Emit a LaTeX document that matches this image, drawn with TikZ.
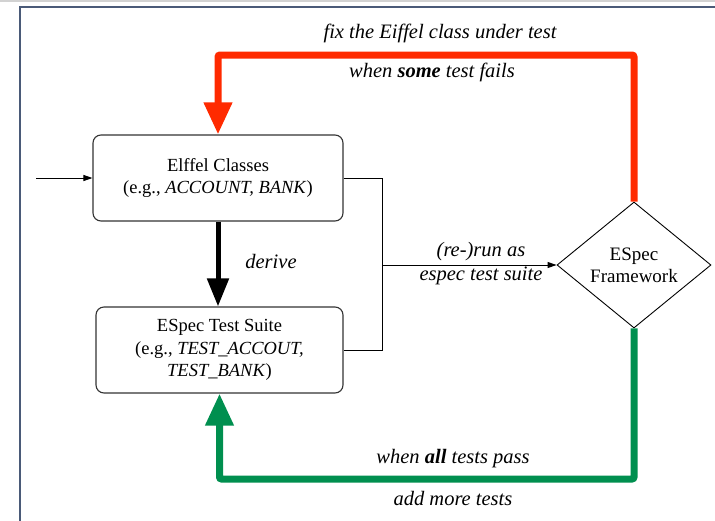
\documentclass[tikz,border=0pt]{standalone}
\usepackage{fontspec}
\setmainfont{Liberation Serif}
\usetikzlibrary{arrows.meta,shapes.geometric,calc}
\definecolor{redc}{HTML}{FF2A00}
\definecolor{greenc}{HTML}{008F4F}
\definecolor{framec}{HTML}{4A5A78}
\definecolor{boxc}{HTML}{333333}
\begin{document}
\begin{tikzpicture}[x=1pt,y=-1pt,
  every node/.style={font=\fontsize{18.5}{22.5}\selectfont},
  boxnode/.style={draw=boxc, line width=1.1pt, rounded corners=8pt, align=center, inner sep=0pt},
  dianode/.style={draw=black, line width=0.9pt, diamond, minimum width=154pt, minimum height=126pt, inner sep=0pt, align=center, font=\fontsize{19}{22}\selectfont},
  lbl/.style={font=\fontsize{20.5}{24}\selectfont\itshape, align=center},
  thinarrow/.style={line width=0.9pt, -{Triangle[length=9pt,width=6pt]}},
  thinline/.style={line width=0.9pt},
  redpath/.style={draw=redc, line width=7pt, rounded corners=2pt, -{Triangle[length=32pt,width=27pt]}},
  greenpath/.style={draw=greenc, line width=7pt, rounded corners=2pt, -{Triangle[length=32pt,width=27pt]}},
  blackpath/.style={draw=black, line width=5pt, -{Triangle[length=28pt,width=21pt]}}
]
\useasboundingbox (0,0) rectangle (715,520);
\draw[gray!35, line width=1.5pt] (0,1) -- (715,1);
\draw[framec, line width=1.5pt] (20,521) -- (20,7) -- (716,7);

\node[boxnode, minimum width=250pt, minimum height=86pt] (b1) at (218,178)
  {Elffel Classes\\(e.g., \textit{ACCOUNT, BANK})};
\node[boxnode, minimum width=247pt, minimum height=86pt] (b2) at (219.5,350)
  {ESpec Test Suite\\(e.g., \textit{TEST\_ACCOUT,}\\\textit{TEST\_BANK})};
\node[dianode] (dia) at (634,265) {ESpec\\Framework};

\coordinate (in) at (36,178);
\coordinate (bx) at (382,0);
\coordinate (rtop) at (0,55);
\coordinate (gbot) at (0,479);

\draw[thinarrow] (in) -- (b1.west);
\draw[blackpath] (b1.south) -- (b1.south |- b2.north);
\draw[thinline] (b1.east) -| (bx |- b2.east) -- (b2.east);
\draw[thinarrow] (bx |- dia.west) -- (dia.west);
\draw[redpath] (dia.north) -- (dia.north |- rtop) -| (b1.north);
\draw[greenpath] (dia.south) -- (dia.south |- gbot) -| (b2.south);

\node[lbl] (lfix) at (440,33) {fix the Eiffel class under test};
\node[lbl] (lsome) at (432,72) {when \textbf{some} test fails};
\node[lbl] (lder) at (271,261) {derive};
\node[lbl] (lrun) at (481,264) {(re-)run as\\espec test suite};
\node[lbl] (lall) at (453,459) {when \textbf{all} tests pass};
\node[lbl] (ladd) at (453,498) {add more tests};
\end{tikzpicture}
\end{document}
